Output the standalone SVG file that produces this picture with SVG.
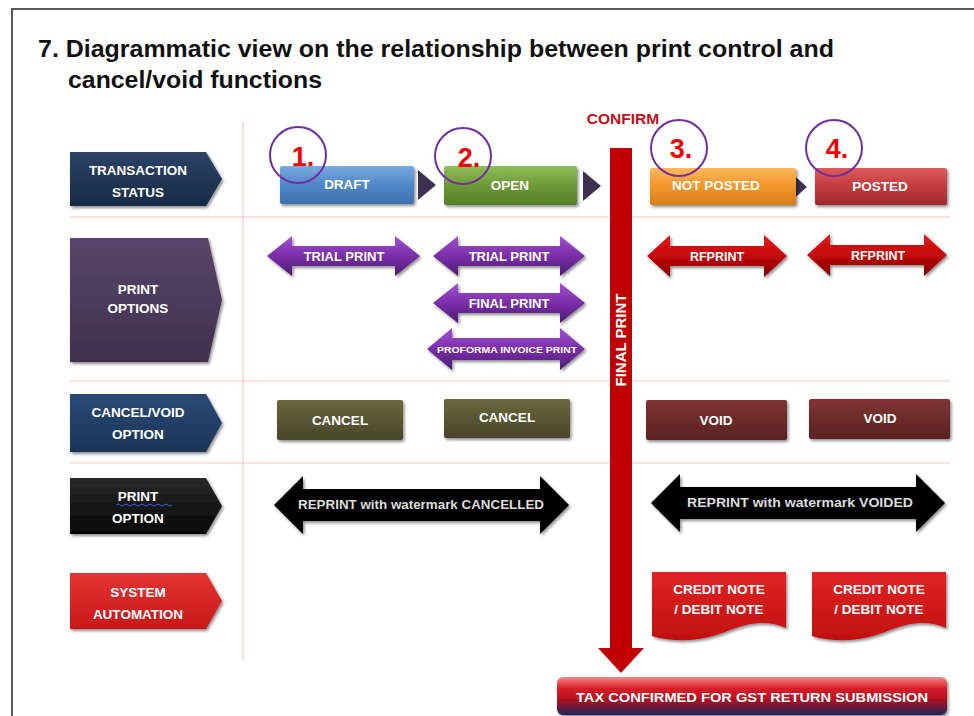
<svg xmlns="http://www.w3.org/2000/svg" width="974" height="716" viewBox="0 0 974 716">
<defs>
<style>
.t{font-family:"Liberation Sans",Arial,sans-serif;font-weight:bold;fill:#fff;text-anchor:middle}
.title{font-family:"Liberation Sans",Arial,sans-serif;font-weight:bold;font-size:23.5px;fill:#111}
.num{font-family:"Liberation Sans",Arial,sans-serif;font-weight:bold;font-size:27px;fill:#f00000;text-anchor:middle}
.grid{stroke:#f2c6c6;stroke-width:1.2;fill:none}
.circ{fill:none;stroke:#7030a0;stroke-width:2}
.sh{filter:url(#sh)}
</style>
<filter id="sh" x="-10%" y="-10%" width="130%" height="140%">
<feDropShadow dx="1.5" dy="2" stdDeviation="1.5" flood-color="#000" flood-opacity="0.45"/>
</filter>
<linearGradient id="gNavy" x1="0" y1="0" x2="0" y2="1"><stop offset="0" stop-color="#2c4366"/><stop offset="1" stop-color="#172a45"/></linearGradient>
<linearGradient id="gPurpLbl" x1="0" y1="0" x2="0" y2="1"><stop offset="0" stop-color="#574568"/><stop offset="1" stop-color="#41304f"/></linearGradient>
<linearGradient id="gBlue2" x1="0" y1="0" x2="0" y2="1"><stop offset="0" stop-color="#2a4a74"/><stop offset="1" stop-color="#1b3456"/></linearGradient>
<linearGradient id="gBlack" x1="0" y1="0" x2="0" y2="1"><stop offset="0" stop-color="#2a2a2a"/><stop offset="1" stop-color="#050505"/></linearGradient>
<linearGradient id="gRedLbl" x1="0" y1="0" x2="0" y2="1"><stop offset="0" stop-color="#e43434"/><stop offset="1" stop-color="#c81818"/></linearGradient>
<linearGradient id="gDraft" x1="0" y1="0" x2="0" y2="1"><stop offset="0" stop-color="#7aaae0"/><stop offset="0.5" stop-color="#5087c8"/><stop offset="1" stop-color="#3e6fae"/></linearGradient>
<linearGradient id="gOpen" x1="0" y1="0" x2="0" y2="1"><stop offset="0" stop-color="#90bd5a"/><stop offset="0.5" stop-color="#6c9a38"/><stop offset="1" stop-color="#557d2a"/></linearGradient>
<linearGradient id="gNP" x1="0" y1="0" x2="0" y2="1"><stop offset="0" stop-color="#fbb85a"/><stop offset="0.5" stop-color="#f2952a"/><stop offset="1" stop-color="#d97d18"/></linearGradient>
<linearGradient id="gPosted" x1="0" y1="0" x2="0" y2="1"><stop offset="0" stop-color="#de5a5c"/><stop offset="0.5" stop-color="#c23c3f"/><stop offset="1" stop-color="#a02a2e"/></linearGradient>
<linearGradient id="gPurpArr" x1="0" y1="0" x2="0" y2="1"><stop offset="0" stop-color="#a450d0"/><stop offset="0.5" stop-color="#7a2fa8"/><stop offset="1" stop-color="#4e1a72"/></linearGradient>
<linearGradient id="gRedArr" x1="0" y1="0" x2="0" y2="1"><stop offset="0" stop-color="#e41a1a"/><stop offset="0.5" stop-color="#c40808"/><stop offset="1" stop-color="#7a0000"/></linearGradient>
<linearGradient id="gCancel" x1="0" y1="0" x2="0" y2="1"><stop offset="0" stop-color="#6a673e"/><stop offset="1" stop-color="#48452a"/></linearGradient>
<linearGradient id="gVoid" x1="0" y1="0" x2="0" y2="1"><stop offset="0" stop-color="#7e3432"/><stop offset="1" stop-color="#5a2220"/></linearGradient>
<linearGradient id="gDoc" x1="0" y1="0" x2="0" y2="1"><stop offset="0" stop-color="#e02424"/><stop offset="1" stop-color="#c01010"/></linearGradient>
<linearGradient id="gTax" x1="0" y1="0" x2="0" y2="1"><stop offset="0" stop-color="#f58a8a"/><stop offset="0.3" stop-color="#d81e2a"/><stop offset="0.6" stop-color="#b01020"/><stop offset="1" stop-color="#1c2458"/></linearGradient>
</defs>

<rect x="0" y="0" width="974" height="716" fill="#fff"/>

<g id="frame">
<path d="M12,716 V9 H974" fill="none" stroke="#5a5a5a" stroke-width="2"/>
</g>

<g id="title">
<text class="title" x="38" y="57" textLength="796" lengthAdjust="spacingAndGlyphs">7.  Diagrammatic view on the relationship between print control and</text>
<text class="title" x="68" y="88" textLength="254" lengthAdjust="spacingAndGlyphs">cancel/void functions</text>
</g>

<g id="grid">
<line class="grid" x1="243" y1="122" x2="243" y2="660"/>
<line class="grid" x1="70" y1="217" x2="950" y2="217"/>
<line class="grid" x1="70" y1="381" x2="950" y2="381"/>
<line class="grid" x1="70" y1="463" x2="950" y2="463"/>
</g>

<g id="lbl-transaction-status">
<path class="sh" d="M70,152 H206 L222,179 L206,206 H70 Z" fill="url(#gNavy)"/>
<text class="t" font-size="13.5" x="138" y="175">TRANSACTION</text>
<text class="t" font-size="13.5" x="138" y="197">STATUS</text>
</g>
<g id="lbl-print-options">
<path class="sh" d="M70,238 H208 L222,300 L208,362 H70 Z" fill="url(#gPurpLbl)"/>
<text class="t" font-size="13.5" x="138" y="294">PRINT</text>
<text class="t" font-size="13.5" x="138" y="313">OPTIONS</text>
</g>
<g id="lbl-cancel-void">
<path class="sh" d="M70,394 H206 L222,423 L206,452 H70 Z" fill="url(#gBlue2)"/>
<text class="t" font-size="13.5" x="138" y="417">CANCEL/VOID</text>
<text class="t" font-size="13.5" x="138" y="439">OPTION</text>
</g>
<g id="lbl-print-option">
<path class="sh" d="M70,478 H206 L222,506 L206,534 H70 Z" fill="url(#gBlack)"/>
<text class="t" font-size="13.5" x="138" y="501">PRINT</text>
<text class="t" font-size="13.5" x="138" y="523">OPTION</text>
<path d="M116,505 q2,-2 4,0 t4,0 t4,0 t4,0 t4,0 t4,0 t4,0 t4,0 t4,0 t4,0 t4,0 t4,0 t4,0 t4,0" fill="none" stroke="#3a5ad8" stroke-width="1"/>
</g>
<g id="lbl-system-automation">
<path class="sh" d="M70,573 H206 L222,601 L206,629 H70 Z" fill="url(#gRedLbl)"/>
<text class="t" font-size="13.5" x="138" y="597">SYSTEM</text>
<text class="t" font-size="13.5" x="138" y="619">AUTOMATION</text>
</g>

<g id="connectors">
<path d="M418,170 L436,185 L418,200 Z" fill="#3c3150"/>
<path d="M583,171 L601,186 L583,201 Z" fill="#3c3150"/>
<path d="M789,171 L807,187 L789,203 Z" fill="#3c3150"/>
</g>

<g id="status-draft">
<rect class="sh" x="280" y="166" width="134" height="38" rx="2" fill="url(#gDraft)"/>
<text class="t" font-size="13.5" x="347" y="189">DRAFT</text>
</g>
<g id="status-open">
<rect class="sh" x="444" y="166" width="133" height="39" rx="2" fill="url(#gOpen)"/>
<text class="t" font-size="13.5" x="510" y="190">OPEN</text>
</g>
<g id="status-not-posted">
<rect class="sh" x="650" y="168" width="146" height="37" rx="2" fill="url(#gNP)"/>
<text class="t" font-size="13.5" x="716" y="190">NOT POSTED</text>
</g>
<g id="status-posted">
<rect class="sh" x="815" y="168" width="132" height="37" rx="2" fill="url(#gPosted)"/>
<text class="t" font-size="13.5" x="880" y="191">POSTED</text>
</g>

<g id="step-1"><circle class="circ" cx="298" cy="155" r="28"/><text class="num" x="303" y="166">1.</text></g>
<g id="step-2"><circle class="circ" cx="463" cy="156" r="28"/><text class="num" x="469" y="167">2.</text></g>
<g id="step-3"><circle class="circ" cx="679" cy="148" r="28"/><text class="num" x="681" y="158">3.</text></g>
<g id="step-4"><circle class="circ" cx="834" cy="148" r="28"/><text class="num" x="837" y="158">4.</text></g>

<g id="confirm">
<text x="623" y="124" font-family="Liberation Sans,Arial,sans-serif" font-weight="bold" font-size="15.5" fill="#c0101a" text-anchor="middle">CONFIRM</text>
</g>

<g id="final-print">
<path d="M610,148 H632 V648 H644 L621,673 L598,648 H610 Z" fill="#c00000"/>
<text class="t" font-size="15" transform="translate(626,340) rotate(-90)">FINAL PRINT</text>
</g>

<g id="trial-print-1">
<path class="sh" d="M267,256 L292,236 V246 H395 V236 L420,256 L395,276 V266 H292 V276 Z" fill="url(#gPurpArr)"/>
<text class="t" font-size="13" x="344" y="261">TRIAL PRINT</text>
</g>
<g id="trial-print-2">
<path class="sh" d="M433,256 L458,236 V246 H560 V236 L585,256 L560,276 V266 H458 V276 Z" fill="url(#gPurpArr)"/>
<text class="t" font-size="13" x="509" y="261">TRIAL PRINT</text>
</g>
<g id="final-print-opt">
<path class="sh" d="M433,303 L458,283 V293 H560 V283 L585,303 L560,323 V313 H458 V323 Z" fill="url(#gPurpArr)"/>
<text class="t" font-size="13" x="509" y="308">FINAL PRINT</text>
</g>
<g id="proforma-print">
<path class="sh" d="M427,349 L452,328 V338 H560 V328 L585,349 L560,370 V360 H452 V370 Z" fill="url(#gPurpArr)"/>
<text class="t" font-size="9.5" x="507" y="353" textLength="140" lengthAdjust="spacingAndGlyphs">PROFORMA  INVOICE  PRINT</text>
</g>

<g id="rfprint-1">
<path class="sh" d="M647,256 L670,235 V246 H764 V235 L787,256 L764,277 V266 H670 V277 Z" fill="url(#gRedArr)"/>
<text class="t" font-size="12.5" x="717" y="261">RFPRINT</text>
</g>
<g id="rfprint-2">
<path class="sh" d="M807,255 L830,234 V245 H924 V234 L947,255 L924,276 V265 H830 V276 Z" fill="url(#gRedArr)"/>
<text class="t" font-size="12.5" x="878" y="260">RFPRINT</text>
</g>

<g id="cancel-1">
<rect class="sh" x="277" y="400" width="126" height="40" rx="2" fill="url(#gCancel)"/>
<text class="t" font-size="13.5" x="340" y="425">CANCEL</text>
</g>
<g id="cancel-2">
<rect class="sh" x="444" y="399" width="126" height="39" rx="2" fill="url(#gCancel)"/>
<text class="t" font-size="13.5" x="507" y="422">CANCEL</text>
</g>
<g id="void-1">
<rect class="sh" x="646" y="400" width="141" height="40" rx="2" fill="url(#gVoid)"/>
<text class="t" font-size="13.5" x="716" y="425">VOID</text>
</g>
<g id="void-2">
<rect class="sh" x="809" y="399" width="141" height="40" rx="2" fill="url(#gVoid)"/>
<text class="t" font-size="13.5" x="880" y="423">VOID</text>
</g>

<g id="reprint-cancelled">
<path class="sh" d="M274,505 L303,476 V489 H540 V476 L569,505 L540,534 V521 H303 V534 Z" fill="#000"/>
<text class="t" font-size="13.5" x="421" y="509" style="fill:#dcdcdc" textLength="246" lengthAdjust="spacingAndGlyphs">REPRINT with watermark CANCELLED</text>
</g>
<g id="reprint-voided">
<path class="sh" d="M651,503 L680,474 V487 H916 V474 L945,503 L916,532 V519 H680 V532 Z" fill="#000"/>
<text class="t" font-size="13.5" x="800" y="507" style="fill:#dcdcdc" textLength="226" lengthAdjust="spacingAndGlyphs">REPRINT with watermark VOIDED</text>
</g>

<g id="credit-note-1">
<path class="sh" d="M652,572 H786 V628 C768,620 752,622 730,630 C706,640 680,644 652,636 Z" fill="url(#gDoc)"/>
<text class="t" font-size="13.5" x="719" y="594">CREDIT NOTE</text>
<text class="t" font-size="13.5" x="719" y="614">/ DEBIT NOTE</text>
</g>
<g id="credit-note-2">
<path class="sh" d="M812,572 H946 V628 C928,620 912,622 890,630 C866,640 840,644 812,636 Z" fill="url(#gDoc)"/>
<text class="t" font-size="13.5" x="879" y="594">CREDIT NOTE</text>
<text class="t" font-size="13.5" x="879" y="614">/ DEBIT NOTE</text>
</g>

<g id="tax-confirmed">
<rect class="sh" x="557" y="677" width="390" height="38" rx="6" fill="url(#gTax)"/>
<text class="t" font-size="13.5" x="752" y="702" textLength="352" lengthAdjust="spacingAndGlyphs">TAX CONFIRMED FOR GST RETURN SUBMISSION</text>
</g>
</svg>
